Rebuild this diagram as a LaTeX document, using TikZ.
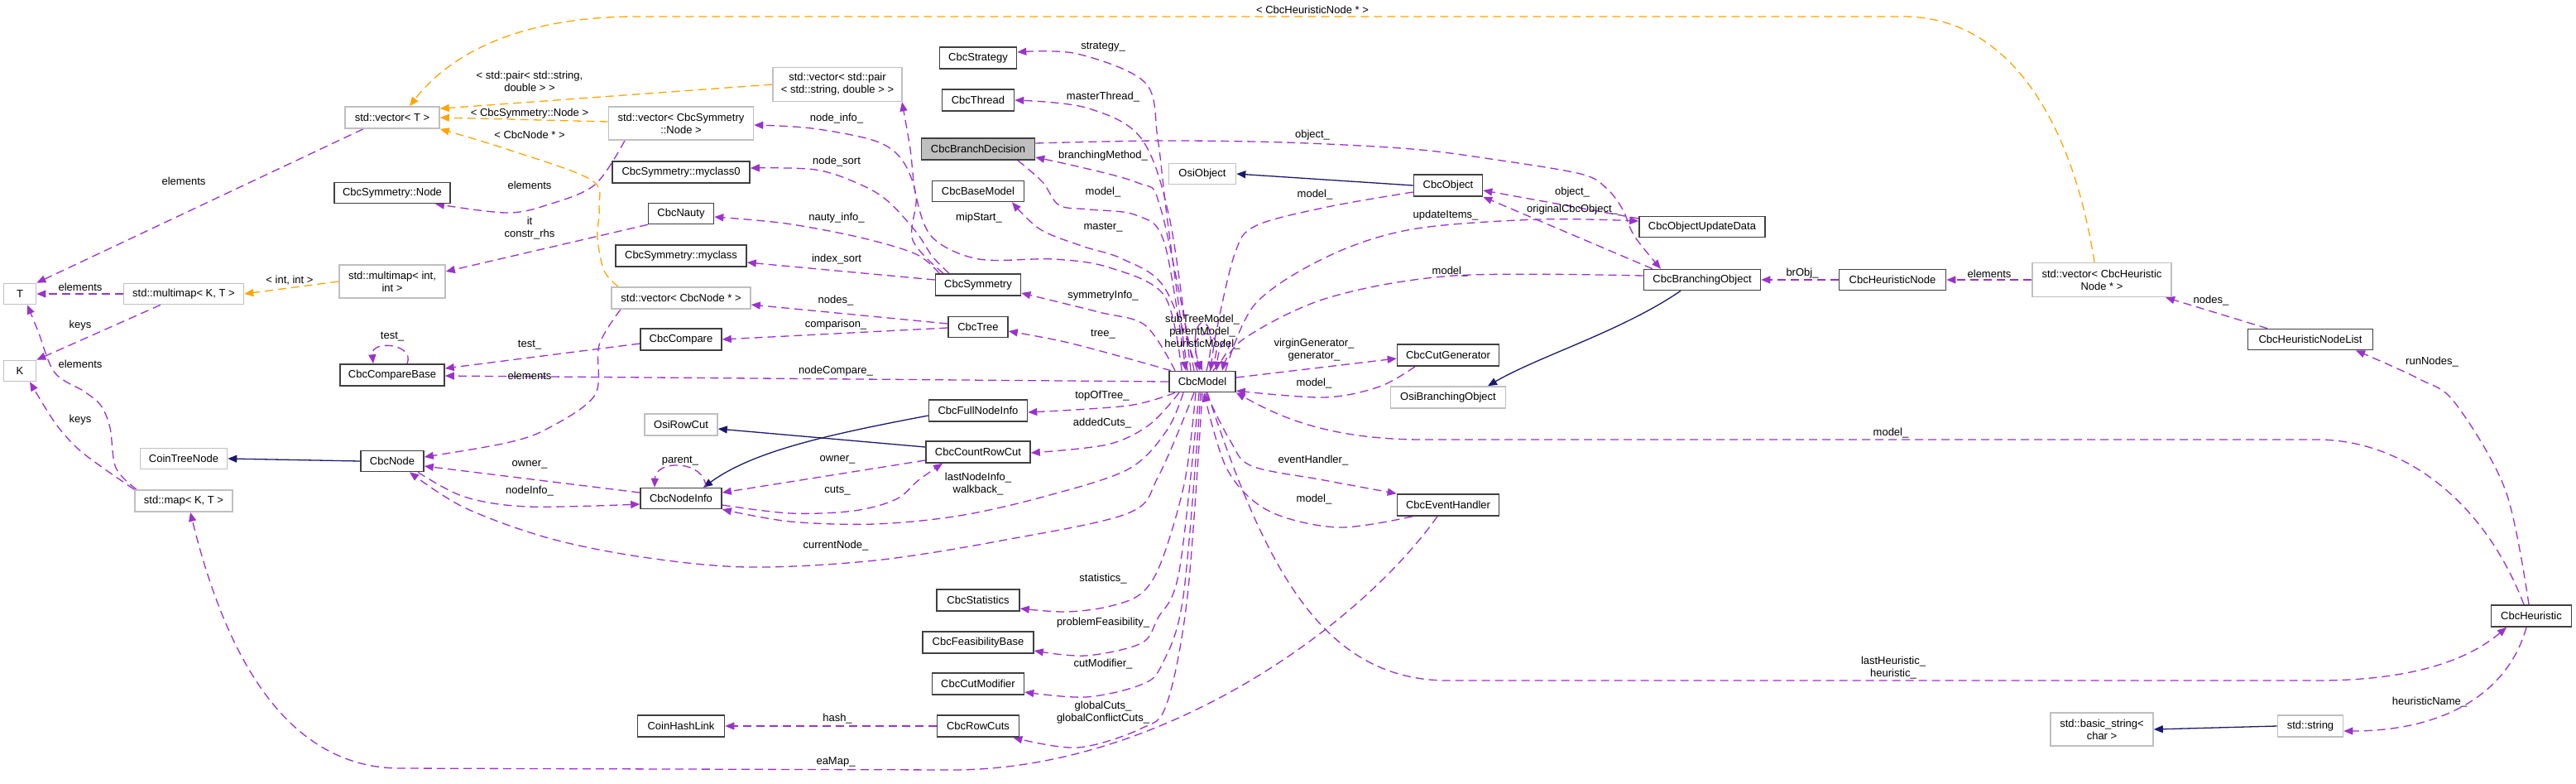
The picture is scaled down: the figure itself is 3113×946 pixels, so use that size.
\documentclass[tikz,border=0pt]{standalone}
\usepackage{fontspec}
\setmainfont{Liberation Sans}
\usetikzlibrary{arrows.meta}
\definecolor{purp}{HTML}{9A32CD}
\definecolor{orng}{HTML}{FFA500}
\definecolor{navyb}{HTML}{191970}
\definecolor{boxgray}{HTML}{BFBFBF}
\definecolor{boxdark}{HTML}{404040}
\newcommand\dxfont{\fontsize{13}{15}\selectfont}
\pgfdeclarelayer{edges}
\pgfsetlayers{edges,main}
\tikzset{
  box/.style={draw=boxdark, line width=1.6pt, fill=white, inner sep=0pt, font=\dxfont, align=center},
  ext/.style={box, draw=boxgray},
  lbl/.style={font=\dxfont, align=center, inner sep=0pt},
  dep/.style={draw=purp, line width=1.3pt, dash pattern=on 10pt off 6pt, -{Triangle[length=11pt,width=9pt]}},
  tmpl/.style={dep, draw=orng},
  inh/.style={draw=navyb, line width=1.3pt, -{Triangle[length=11pt,width=9pt]}},
  pl/.style={smooth, tension=0.55}
}
\begin{document}
\begin{tikzpicture}[x=1pt,y=-1pt]
\useasboundingbox (0,0) rectangle (3113,946);
% ---------------- nodes ----------------
\node[ext, minimum width=39pt, minimum height=25pt] (T) at (24,355) {T};
\node[ext, minimum width=39pt, minimum height=25pt] (K) at (24,448) {K};
\node[ext, minimum width=145pt, minimum height=25pt] (mmKT) at (222,355) {std::multimap< K, T >};
\node[ext, minimum width=118pt, minimum height=26pt] (mapKT) at (222,605) {std::map< K, T >};
\node[ext, minimum width=105pt, minimum height=25pt] (CoinTreeNode) at (222,554) {CoinTreeNode};
\node[ext, minimum width=114pt, minimum height=26pt] (vecT) at (474,142) {std::vector< T >};
\node[box, minimum width=140pt, minimum height=25pt] (SymNode) at (474,233) {CbcSymmetry::Node};
\node[ext, minimum width=128pt, minimum height=40pt] (mmII) at (474,340) {std::multimap< int,\\ int >};
\node[box, minimum width=126pt, minimum height=26pt] (CompareBase) at (474,453) {CbcCompareBase};
\node[box, minimum width=76pt, minimum height=25pt] (CbcNode) at (474,557) {CbcNode};
\node[ext, minimum width=156pt, minimum height=41pt] (vecPair) at (1012,102) {std::vector< std::pair\\< std::string, double > >};
\node[ext, minimum width=175pt, minimum height=40pt] (vecSymNode) at (823,149) {std::vector< CbcSymmetry\\::Node >};
\node[box, minimum width=166pt, minimum height=26pt] (myclass0) at (823,208) {CbcSymmetry::myclass0};
\node[box, minimum width=79pt, minimum height=25pt] (Nauty) at (823,258) {CbcNauty};
\node[box, minimum width=158pt, minimum height=26pt] (myclass) at (823,309) {CbcSymmetry::myclass};
\node[ext, minimum width=168pt, minimum height=26pt] (vecNode) at (823,360) {std::vector< CbcNode * >};
\node[box, minimum width=98pt, minimum height=26pt] (Compare) at (823,410) {CbcCompare};
\node[ext, minimum width=88pt, minimum height=26pt] (OsiRowCut) at (823,513) {OsiRowCut};
\node[box, minimum width=98pt, minimum height=25pt] (NodeInfo) at (823,602) {CbcNodeInfo};
\node[box, minimum width=105pt, minimum height=26pt] (HashLink) at (823,877) {CoinHashLink};
\node[box, minimum width=93pt, minimum height=26pt] (Strategy) at (1182,70) {CbcStrategy};
\node[box, minimum width=87pt, minimum height=26pt] (Thread) at (1182,121) {CbcThread};
\node[box, fill=boxgray, minimum width=137pt, minimum height=26pt] (BranchDecision) at (1182,180) {CbcBranchDecision};
\node[box, minimum width=111pt, minimum height=25pt] (BaseModel) at (1182,231) {CbcBaseModel};
\node[box, minimum width=103pt, minimum height=26pt] (Symmetry) at (1182,344) {CbcSymmetry};
\node[box, minimum width=72pt, minimum height=25pt] (Tree) at (1182,395) {CbcTree};
\node[box, minimum width=119pt, minimum height=26pt] (FullNodeInfo) at (1182,496) {CbcFullNodeInfo};
\node[box, minimum width=126pt, minimum height=26pt] (CountRowCut) at (1182,546) {CbcCountRowCut};
\node[box, minimum width=100pt, minimum height=26pt] (Statistics) at (1182,725) {CbcStatistics};
\node[box, minimum width=134pt, minimum height=26pt] (FeasBase) at (1182,776) {CbcFeasibilityBase};
\node[box, minimum width=111pt, minimum height=26pt] (CutModifier) at (1182,826) {CbcCutModifier};
\node[box, minimum width=99pt, minimum height=26pt] (RowCuts) at (1182,877) {CbcRowCuts};
\node[ext, minimum width=81pt, minimum height=25pt] (OsiObject) at (1453,210) {OsiObject};
\node[box, minimum width=80pt, minimum height=25pt] (Model) at (1453,461) {CbcModel};
\node[box, minimum width=83pt, minimum height=26pt] (CbcObject) at (1750,224) {CbcObject};
\node[box, minimum width=123pt, minimum height=26pt] (CutGen) at (1750,429) {CbcCutGenerator};
\node[ext, minimum width=139pt, minimum height=26pt] (OsiBranching) at (1750,480) {OsiBranchingObject};
\node[box, minimum width=123pt, minimum height=26pt] (EventHandler) at (1750,610) {CbcEventHandler};
\node[box, minimum width=152pt, minimum height=25pt] (ObjUpdate) at (2057,274) {CbcObjectUpdateData};
\node[box, minimum width=141pt, minimum height=25pt] (BranchingObject) at (2057,338) {CbcBranchingObject};
\node[box, minimum width=129pt, minimum height=25pt] (HeurNode) at (2287,338) {CbcHeuristicNode};
\node[ext, minimum width=168pt, minimum height=41pt] (vecHeur) at (2540,338) {std::vector< CbcHeuristic\\Node * >};
\node[ext, minimum width=124pt, minimum height=40pt] (basicString) at (2540,881) {std::basic\_string<\\ char >};
\node[box, minimum width=151pt, minimum height=25pt] (HeurNodeList) at (2792,410) {CbcHeuristicNodeList};
\node[ext, minimum width=79pt, minimum height=26pt] (stdString) at (2792,877) {std::string};
\node[box, minimum width=97pt, minimum height=26pt] (Heuristic) at (3059,744) {CbcHeuristic};
% ---------------- labels ----------------
\node[lbl] (l1) at (222,219) {elements};
\node[lbl] (l2) at (97,347) {elements};
\node[lbl] (l3) at (97,393) {keys};
\node[lbl] (l4) at (97,440) {elements};
\node[lbl] (l5) at (97,507) {keys};
\node[lbl] (l6) at (350,339) {< int, int >};
\node[lbl] (l7) at (640,98) {< std::pair< std::string,\\ double > >};
\node[lbl] (l8) at (640,137) {< CbcSymmetry::Node >};
\node[lbl] (l9) at (640,163) {< CbcNode * >};
\node[lbl] (l10) at (1586,12) {< CbcHeuristicNode * >};
\node[lbl] (l11) at (640,224) {elements};
\node[lbl] (l12) at (640,276) {it\\constr\_rhs};
\node[lbl] (l13) at (474,407) {test\_};
\node[lbl] (l14) at (640,417) {test\_};
\node[lbl] (l15) at (640,454) {elements};
\node[lbl] (l16) at (640,561) {owner\_};
\node[lbl] (l17) at (640,593) {nodeInfo\_};
\node[lbl] (l18) at (1010,448) {nodeCompare\_};
\node[lbl] (l19) at (1011,143) {node\_info\_};
\node[lbl] (l20) at (1011,195) {node\_sort};
\node[lbl] (l21) at (1011,263) {nauty\_info\_};
\node[lbl] (l22) at (1011,313) {index\_sort};
\node[lbl] (l23) at (1010,363) {nodes\_};
\node[lbl] (l24) at (1010,392) {comparison\_};
\node[lbl] (l25) at (1012,555) {owner\_};
\node[lbl] (l26) at (1012,593) {cuts\_};
\node[lbl] (l27) at (822,557) {parent\_};
\node[lbl] (l28) at (1010,659) {currentNode\_};
\node[lbl] (l29) at (1012,868) {hash\_};
\node[lbl] (l30) at (1010,920) {eaMap\_};
\node[lbl] (l31) at (1183,263) {mipStart\_};
\node[lbl] (l32) at (1182,585) {lastNodeInfo\_\\walkback\_};
\node[lbl] (l33) at (1333,57) {strategy\_};
\node[lbl] (l34) at (1333,117) {masterThread\_};
\node[lbl] (l35) at (1333,188) {branchingMethod\_};
\node[lbl] (l36) at (1333,232) {model\_};
\node[lbl] (l37) at (1333,275) {master\_};
\node[lbl] (l38) at (1333,357) {symmetryInfo\_};
\node[lbl] (l39) at (1333,404) {tree\_};
\node[lbl] (l40) at (1332,478) {topOfTree\_};
\node[lbl] (l41) at (1332,511) {addedCuts\_};
\node[lbl] (l42) at (1333,699) {statistics\_};
\node[lbl] (l43) at (1333,752) {problemFeasibility\_};
\node[lbl] (l44) at (1333,802) {cutModifier\_};
\node[lbl] (l45) at (1333,861) {globalCuts\_\\globalConflictCuts\_};
\node[lbl] (l46) at (1453,401) {subTreeModel\_\\parentModel\_\\heuristicModel\_};
\node[lbl] (l47) at (1586,163) {object\_};
\node[lbl] (l48) at (1589,235) {model\_};
\node[lbl] (l49) at (1747,260) {updateItems\_};
\node[lbl] (l50) at (1752,328) {model\_};
\node[lbl] (l51) at (1900,232) {object\_};
\node[lbl] (l52) at (1900,253) {originalCbcObject\_};
\node[lbl] (l53) at (1588,423) {virginGenerator\_\\generator\_};
\node[lbl] (l54) at (1588,463) {model\_};
\node[lbl] (l55) at (1587,556) {eventHandler\_};
\node[lbl] (l56) at (1588,603) {model\_};
\node[lbl] (l57) at (2178,330) {brObj\_};
\node[lbl] (l58) at (2404,331) {elements};
\node[lbl] (l59) at (2672,363) {nodes\_};
\node[lbl] (l60) at (2939,437) {runNodes\_};
\node[lbl] (l61) at (2285,523) {model\_};
\node[lbl] (l62) at (2288,807) {lastHeuristic\_\\heuristic\_};
\node[lbl] (l63) at (2936,848) {heuristicName\_};
% ---------------- edges ----------------
\begin{pgfonlayer}{edges}
\fill[white] (0,0) rectangle (3113,946);
% left part
\draw[dep] ([xshift=-35pt]vecT.south) -- (T.north east);
\draw[dep] (mmKT.west) -- (T.east);
\draw[dep] ([xshift=-28pt]mmKT.south) -- (K.north east);
\draw[dep] plot[pl] coordinates {([xshift=-57pt]mapKT.north) (140,565) (133,517) (122,490) (102,473) (66,450) (46,400) ([xshift=9pt]T.south)};
\draw[dep] plot[pl] coordinates {(mapKT.north west) (120,562) (92,540) (66,510) ([xshift=12pt]K.south)};
\draw[tmpl] (mmII.west) -- (mmKT.east);
\draw[dep] (Nauty.south west) -- ([yshift=12pt]mmII.east);
\draw[dep] plot[pl] coordinates {([xshift=-68pt]vecSymNode.south) (719,223) (663,247) (612,257) ([xshift=52pt]SymNode.south)};
\draw[dep] plot[pl] coordinates {([xshift=-73pt]vecNode.south) (724,417) (719,477) (663,517) (612,535) ([yshift=5pt]CbcNode.east)};
\draw[dep] ([yshift=-5pt]Compare.west) -- ([yshift=8pt]CompareBase.east);
\draw[dep] ([xshift=18pt]CompareBase.north) .. controls (502,415) and (448,410) .. ([xshift=-23pt]CompareBase.north);
\draw[dep] (Model.west) -- ([yshift=-1pt]CompareBase.east);
% templates
\draw[tmpl] (vecPair.west) -- ([yshift=-3pt]vecT.north east);
\draw[tmpl] ([yshift=2pt]vecSymNode.west) -- (vecT.east);
\draw[tmpl] plot[pl] coordinates {([xshift=-76pt]vecNode.north) (730,327) (722,287) (724,250) (714,217) (612,180) (vecT.south east)};
\draw[tmpl] ([xshift=-9pt]vecHeur.north) .. controls (2505,150) and (2430,20) .. (2300,20) -- (770,20) .. controls (620,20) and (540,70) .. ([xshift=21pt]vecT.north);
% inheritance
\draw[inh] (CbcNode.west) -- (CoinTreeNode.east);
\draw[inh] ([yshift=-6pt]FullNodeInfo.west) .. controls (1000,525) and (910,545) .. ([xshift=27pt]NodeInfo.north);
\draw[inh] ([yshift=6pt]CountRowCut.west) -- ([yshift=-5pt]OsiRowCut.east);
\draw[inh] (CbcObject.west) -- (OsiObject.east);
\draw[inh] ([xshift=-26pt]BranchingObject.south) .. controls (1960,400) and (1860,430) .. ([xshift=48pt]OsiBranching.north);
\draw[inh] (stdString.west) -- (basicString.east);
% node / node info
\draw[dep] ([yshift=7pt]NodeInfo.west) -- ([yshift=-6pt]CbcNode.east);
\draw[dep] plot[pl] coordinates {([xshift=31pt]CbcNode.south) (561,600) (638,612) ([yshift=-7pt]NodeInfo.west)};
\draw[dep] ([xshift=30pt]NodeInfo.north) .. controls (852,555) and (792,555) .. ([xshift=-32pt]NodeInfo.north);
\draw[dep] plot[pl] coordinates {([yshift=-8pt]NodeInfo.east) (955,620) (1032,617) (1083,603) (1110,580) ([xshift=-43pt]CountRowCut.south)};
\draw[dep] ([yshift=-10pt]CountRowCut.west) -- ([yshift=7pt]NodeInfo.east);
% from CbcModel bottom
\draw[dep] plot[pl] coordinates {([xshift=-33pt]Model.south) (1363,490) ([yshift=-2pt]FullNodeInfo.east)};
\draw[dep] plot[pl] coordinates {([xshift=-28pt]Model.south) (1389,513) (1338,537) ([yshift=-1pt]CountRowCut.east)};
\draw[dep] plot[pl] coordinates {([xshift=-23pt]Model.south) (1410,520) (1363,567) (1261,600) (1159,623) (1057,633) (955,630) (NodeInfo.south east)};
\draw[dep] plot[pl] coordinates {([xshift=-10pt]Model.south) (1400,575) (1363,620) (1210,653) (1057,677) (904,685) (777,673) (663,650) (561,613) ([xshift=21pt]CbcNode.south)};
\draw[dep] plot[pl] coordinates {([xshift=-8pt]Model.south) (1432,580) (1404,677) (1379,717) (1338,733) (1287,739) ([yshift=-10pt]Statistics.east)};
\draw[dep] plot[pl] coordinates {([xshift=-4pt]Model.south) (1425,690) (1399,747) (1379,777) (1312,792) ([yshift=-10pt]FeasBase.east)};
\draw[dep] plot[pl] coordinates {([xshift=-2pt]Model.south) (1430,720) (1404,803) (1379,827) (1312,842) ([yshift=-10pt]CutModifier.east)};
\draw[dep] plot[pl] coordinates {(Model.south) (1435,720) (1410,850) (1379,880) (1302,903) ([xshift=-8pt]RowCuts.south east)};
\draw[dep] (RowCuts.west) -- (HashLink.east);
\draw[dep] ([xshift=-13pt]EventHandler.south) .. controls (1640,760) and (1400,930) .. (1150,930) -- (480,928) .. controls (330,925) and (265,760) .. ([xshift=8pt]mapKT.south);
% from CbcModel top to the left
\draw[dep] plot[pl] coordinates {([xshift=-33pt]Model.north) (1384,393) (1328,377) ([yshift=-10pt]Symmetry.east)};
\draw[dep] plot[pl] coordinates {([xshift=-38pt]Model.north) (1363,433) (1287,413) ([yshift=-5pt]Tree.east)};
\draw[dep] plot[pl] coordinates {([xshift=-25pt]Model.north) (1407,357) (1340,323) (1273,313) (1183,313) (1127,287) (1107,237) (1100,180) ([xshift=78pt]vecPair.south)};
\draw[dep] plot[pl] coordinates {([xshift=-18pt]Model.north) (1410,260) (1399,167) (1384,100) (1302,65) ([yshift=7pt]Strategy.east)};
\draw[dep] plot[pl] coordinates {([xshift=-14pt]Model.north) (1414,267) (1379,167) (1312,130) (Thread.east)};
\draw[dep] plot[pl] coordinates {([xshift=-10pt]Model.north) (1403,253) (1373,220) ([yshift=-10pt]BranchDecision.east)};
\draw[dep] plot[pl] coordinates {([xshift=-6pt]Model.north) (1407,347) (1357,313) (1307,297) (1257,277) ([xshift=41pt]BaseModel.south)};
\draw[dep] plot[pl] coordinates {([xshift=48pt]BranchDecision.south) (1260,220) (1280,248) (1317,253) (1373,260) (1407,293) ([xshift=-20pt]Model.north)};
% CbcSymmetry
\draw[dep] plot[pl] coordinates {([xshift=-42pt]Symmetry.north) (1103,290) (1107,237) (1090,193) (1057,170) (981,155) ([yshift=-2pt]vecSymNode.east)};
\draw[dep] plot[pl] coordinates {([xshift=-35pt]Symmetry.north) (1127,310) (1107,280) (1073,243) (1040,223) (986,205) ([yshift=5pt]myclass0.east)};
\draw[dep] plot[pl] coordinates {([xshift=-47pt]Symmetry.north) (1107,307) (1040,287) (950,270) ([yshift=-4pt]Nauty.east)};
\draw[dep] ([yshift=6pt]Symmetry.west) -- ([yshift=-8pt]myclass.east);
\draw[dep] ([yshift=4pt]Tree.west) -- ([yshift=-8pt]vecNode.east);
\draw[dep] ([yshift=-1pt]Tree.west) -- (Compare.east);
% self loops
\draw[dep] ([xshift=5pt]Model.north) .. controls (1478,372) and (1432,372) .. ([xshift=-3pt]Model.north);
\draw[dep] ([xshift=9pt]Model.north) .. controls (1492,390) and (1428,390) .. (Model.north);
\draw[dep] ([xshift=13pt]Model.north) .. controls (1505,405) and (1475,395) .. ([xshift=17pt]Model.north);
% right part
\draw[dep] plot[pl] coordinates {([yshift=7pt]BranchDecision.east) (1400,170) (1553,172) (1706,180) (1808,193) (1910,210) (1941,227) (1961,253) (1975,285) ([xshift=-50pt]BranchingObject.north)};
\draw[dep] plot[pl] coordinates {([yshift=-8pt]CbcObject.west) (1604,250) (1517,273) (1492,307) (1470,400) ([xshift=10pt]Model.north)};
\draw[dep] ([yshift=10pt]ObjUpdate.west) -- ([yshift=-6pt]CbcObject.east);
\draw[dep] ([xshift=-60pt]BranchingObject.north) -- (CbcObject.south east);
\draw[dep] plot[pl] coordinates {([xshift=28pt]Model.north) (1517,367) (1604,310) (1706,277) (1859,265) ([yshift=7pt]ObjUpdate.west)};
\draw[dep] plot[pl] coordinates {([yshift=5pt]BranchingObject.west) (1757,333) (1604,360) (1502,410) ([xshift=24pt]Model.north)};
\draw[dep] (HeurNode.west) -- (BranchingObject.east);
\draw[dep] (vecHeur.west) -- (HeurNode.east);
\draw[dep] ([xshift=-52pt]HeurNodeList.north) -- ([xshift=77pt]vecHeur.south);
\draw[dep] plot[pl] coordinates {([xshift=-3pt]Heuristic.north) (3028,593) (2967,487) (2924,458) ([xshift=55pt]HeurNodeList.south)};
\draw[dep] ([xshift=-9pt]Heuristic.north) .. controls (3000,600) and (2900,531) .. (2800,531) -- (1720,531) .. controls (1600,531) and (1540,500) .. (Model.south east);
\draw[dep] ([xshift=6pt]Model.south) .. controls (1530,690) and (1600,822) .. (1750,822) -- (2800,822) .. controls (2920,822) and (2985,795) .. ([xshift=-30pt]Heuristic.south);
\draw[dep] ([xshift=-6pt]Heuristic.south) .. controls (3030,840) and (2950,883) .. ([yshift=-6pt]stdString.east);
\draw[dep] ([yshift=5pt]Model.east) -- ([yshift=-4pt]CutGen.west);
\draw[dep] plot[pl] coordinates {([xshift=-40pt]CutGen.south) (1667,467) (1600,480) ([yshift=-11pt]Model.east)};
\draw[dep] plot[pl] coordinates {([xshift=4pt]Model.south) (1487,533) (1513,563) (1600,580) (EventHandler.north west)};
\draw[dep] plot[pl] coordinates {([xshift=-43pt]EventHandler.south) (1617,637) (1533,617) (1483,567) ([xshift=2pt]Model.south)};
\end{pgfonlayer}
\end{tikzpicture}
\end{document}
